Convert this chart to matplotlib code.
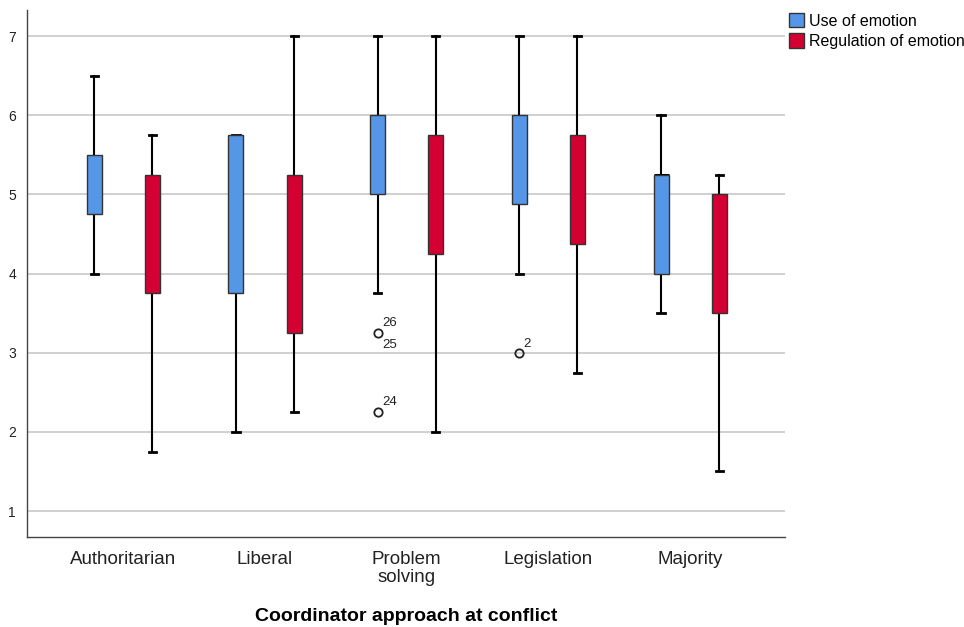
import matplotlib
matplotlib.use("Agg")
import matplotlib.pyplot as plt
from matplotlib.patches import Patch

plt.rcParams['font.family'] = ['Liberation Sans', 'DejaVu Sans']

categories = ["Authoritarian", "Liberal", "Problem\nsolving", "Legislation", "Majority"]
series = ["Use of emotion", "Regulation of emotion"]
colors = ["#5596E6", "#D50032"]

# (whislo, q1, med, q3, whishi)
use_stats = [
    (4.0, 4.75, 5.25, 5.5, 6.5),
    (2.0, 3.75, 4.25, 5.75, 5.75),
    (3.75, 5.0, 5.75, 6.0, 7.0),
    (4.0, 4.875, 5.5, 6.0, 7.0),
    (3.5, 4.0, 5.25, 5.25, 6.0),
]
reg_stats = [
    (1.75, 3.75, 4.25, 5.25, 5.75),
    (2.25, 3.25, 4.125, 5.25, 7.0),
    (2.0, 4.25, 5.0, 5.75, 7.0),
    (2.75, 4.375, 5.0, 5.75, 7.0),
    (1.5, 3.5, 4.0, 5.0, 5.25),
]
use_outliers = [[], [], [3.25, 2.25], [3.0], []]
reg_outliers = [[], [], [], [], []]
outlier_labels = [
    (0, 2, 3.25, "26", (3, 3)),
    (0, 2, 3.25, "25", (3, -13)),
    (0, 2, 2.25, "24", (3, 3)),
    (0, 3, 3.0, "2", (3, 2)),
]

fig = plt.figure(figsize=(9.64, 6.27), dpi=100)
ax = fig.add_axes([27/964, 1-537/627, (785-27)/964, (537-10)/627])

offset = 0.205
width = 0.106

def make_stats(stats, outs):
    res = []
    for (lo, q1, med, q3, hi), fl in zip(stats, outs):
        res.append(dict(whislo=lo, q1=q1, med=med, q3=q3, whishi=hi, fliers=fl))
    return res

for si, (stats, outs) in enumerate([(use_stats, use_outliers), (reg_stats, reg_outliers)]):
    pos = [i + (-offset if si == 0 else offset) for i in range(len(categories))]
    ax.bxp(make_stats(stats, outs), positions=pos, widths=width, patch_artist=True,
           showfliers=True, manage_ticks=False,
           boxprops=dict(facecolor=colors[si], edgecolor="#333333", linewidth=1.0),
           medianprops=dict(color="black", linewidth=2.2),
           whiskerprops=dict(color="black", linewidth=1.5),
           capprops=dict(color="black", linewidth=2.0),
           capwidths=0.05,
           flierprops=dict(marker='o', markerfacecolor='none', markeredgecolor='#222222',
                           markersize=6, markeredgewidth=1.3))
    for b in ax.patches[-len(categories):]:
        b.set_zorder(3)

for si, ci, val, txt, off in outlier_labels:
    x = ci + (-offset if si == 0 else offset)
    ax.annotate(txt, (x, val), xytext=off, textcoords='offset points',
                fontsize=9.5, color='#222222', ha='left', va='bottom')

ax.set_xlim(-0.68, 4.67)
ax.set_ylim(0.672, 7.33)
ax.set_yticks([1, 2, 3, 4, 5, 6, 7])
ax.yaxis.grid(True, color="#c8c8c8", linewidth=1.2)
ax.set_axisbelow(True)
ax.set_xticks(range(len(categories)))
ax.set_xticklabels(categories, fontsize=13.5, color="#222222", linespacing=1.1)
ax.tick_params(axis='both', length=0)
ax.tick_params(axis='y', labelsize=10, pad=8, colors="#222222")
ax.tick_params(axis='x', pad=10)
for s in ["top", "right"]:
    ax.spines[s].set_visible(False)
for s in ["left", "bottom"]:
    ax.spines[s].set_color("#444444")
    ax.spines[s].set_linewidth(1.0)

ax.set_xlabel("Coordinator approach at conflict", fontsize=14, fontweight="bold", labelpad=16)

handles = [Patch(facecolor=c, edgecolor="#333333", linewidth=1.0) for c in colors]
fig.legend(handles, series, loc="upper left", bbox_to_anchor=(789/964, 1-13/627),
           frameon=False, fontsize=11.5, handlelength=0.95, handleheight=1.0,
           handletextpad=0.3, borderpad=0, borderaxespad=0, labelspacing=0.3)

fig.savefig("out.png", dpi=100)
